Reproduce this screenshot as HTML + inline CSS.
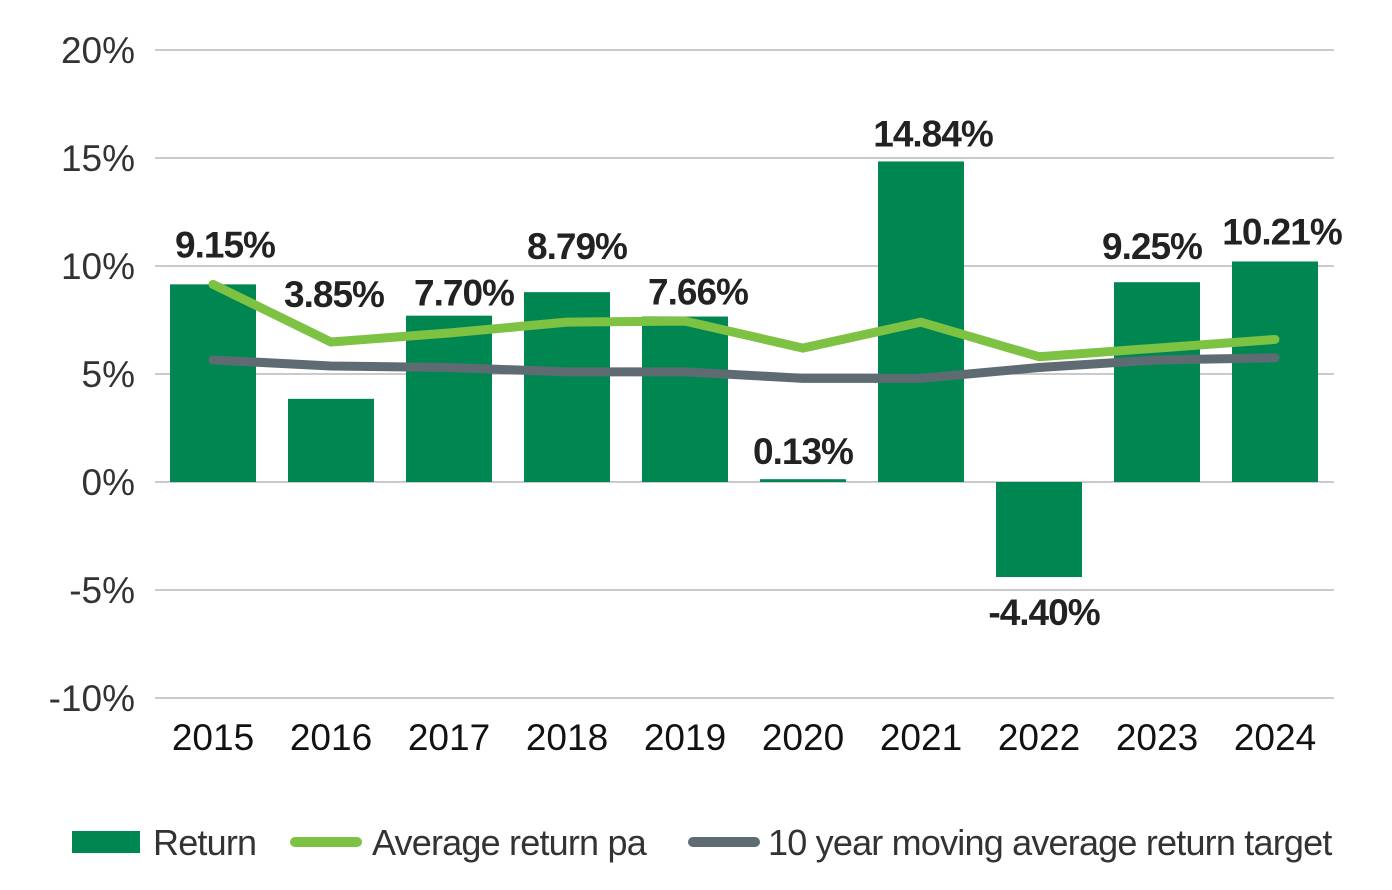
<!DOCTYPE html>
<html><head><meta charset="utf-8"><style>
html,body{margin:0;padding:0;background:#fff;}
svg{display:block;font-family:"Liberation Sans",sans-serif;}
</style></head><body>
<svg id="chart" width="1392" height="890" viewBox="0 0 1392 890" xmlns="http://www.w3.org/2000/svg"></svg>
<script>
const categories=["2015","2016","2017","2018","2019","2020","2021","2022","2023","2024"];
const returns=[9.15,3.85,7.70,8.79,7.66,0.13,14.84,-4.40,9.25,10.21];
const returnLabels=["9.15%","3.85%","7.70%","8.79%","7.66%","0.13%","14.84%","-4.40%","9.25%","10.21%"];
const avgReturn=[9.15,6.48,6.9,7.4,7.45,6.2,7.4,5.8,6.2,6.6];
const target=[5.65,5.37,5.3,5.1,5.1,4.8,4.8,5.3,5.65,5.75];
const yTicks=[20,15,10,5,0,-5,-10];
const yTickLabels=["20%","15%","10%","5%","0%","-5%","-10%"];
// label layout offsets (px, not data)
const labelDx=[12,3,15,10,13,0,12,5,-5,7];
const labelDy=[-27,-92,-10,-33,-12,-15,-15,48,-23,-17];

const NS="http://www.w3.org/2000/svg";
const svg=document.getElementById("chart");
const y=v=>482-v*21.6;
const x=i=>213+i*118;
function mk(t,a){const e=document.createElementNS(NS,t);for(const k in a)e.setAttribute(k,a[k]);svg.appendChild(e);return e;}

yTicks.forEach((t,i)=>{
  const g=mk("line",{x1:155,x2:1334,y1:y(t),y2:y(t),stroke:"#aaa","stroke-width":1.3});
  
  
  const tx=mk("text",{x:135,y:y(t)+13,"text-anchor":"end","font-size":37,fill:"#333"});
  tx.textContent=yTickLabels[i];
  
  
});
categories.forEach((c,i)=>{
  const v=returns[i];
  const r=mk("rect",{x:x(i)-43,width:86,y:Math.min(y(v),y(0)),height:Math.abs(y(v)-y(0)),fill:"#008751"});
  
  
  const t=mk("text",{x:x(i),y:750,"text-anchor":"middle","font-size":37,fill:"#111"});
  t.textContent=c;
  
  
});
function line(vals,color,name){
  const p=mk("polyline",{points:vals.map((v,i)=>x(i)+","+y(v)).join(" "),fill:"none",stroke:color,"stroke-width":9,"stroke-linejoin":"round","stroke-linecap":"round"});
  
  
}
line(target,"#5e6b73","target-line");
line(avgReturn,"#7dc242","average-return-line");
returns.forEach((v,i)=>{
  const ly=(v>=0?y(v):y(v))+labelDy[i];
  const t=mk("text",{x:x(i)+labelDx[i],y:ly,"text-anchor":"middle","font-size":37,"font-weight":"bold",fill:"#222","letter-spacing":"-1"});
  t.textContent=returnLabels[i];
  
  
});
// legend
const lg=[["rect","Return","#008751",72,153],["line","Average return pa","#7dc242",295,372],["line","10 year moving average return target","#5e6b73",693,768]];
lg.forEach(l=>{
  if(l[0]==="rect"){const r=mk("rect",{x:l[3],y:831,width:68,height:22,fill:l[2]});}
  else{const s=mk("line",{x1:l[3],x2:l[3]+62,y1:842,y2:842,stroke:l[2],"stroke-width":10,"stroke-linecap":"round"});}
  const t=mk("text",{x:l[4],y:855,"font-size":36,fill:"#333","letter-spacing":"-0.8"});
  t.textContent=l[1];
  
  
});
</script>
</body></html>
